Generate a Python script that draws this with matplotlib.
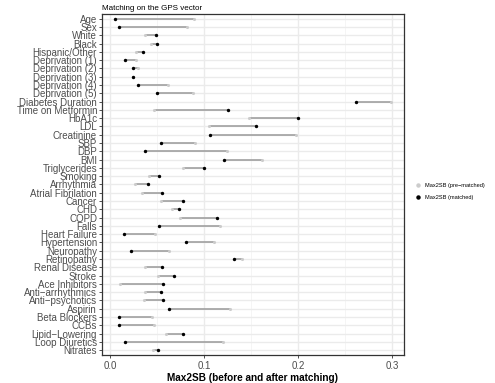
import matplotlib.pyplot as plt
from matplotlib.lines import Line2D

plt.rcParams['font.family'] = ['Liberation Sans', 'DejaVu Sans']

# covariates, top to bottom
covariates = ['Age', 'Sex', 'White', 'Black', 'Hispanic/Other',
              'Deprivation (1)', 'Deprivation (2)', 'Deprivation (3)',
              'Deprivation (4)', 'Deprivation (5)', 'Diabetes Duration',
              'Time on Metformin', 'HbA1c', 'LDL', 'Creatinine', 'SBP', 'DBP',
              'BMI', 'Triglycerides', 'Smoking', 'Arrhythmia',
              'Atrial Fibrilation', 'Cancer', 'CHD', 'COPD', 'Falls',
              'Heart Failure', 'Hypertension', 'Neuropathy', 'Retinopathy',
              'Renal Disease', 'Stroke', 'Ace Inhibitors',
              'Anti\u2212arrhythmics', 'Anti\u2212psychotics', 'Aspirin',
              'Beta Blockers', 'CCBs', 'Lipid\u2212Lowering', 'Loop Diuretics',
              'Nitrates']

pre_matched = [0.089, 0.082, 0.037, 0.044, 0.028,
               0.028, 0.030, 0.024,
               0.062, 0.088, 0.299,
               0.047, 0.148, 0.105, 0.198, 0.091, 0.125,
               0.162, 0.078, 0.042, 0.027,
               0.034, 0.054, 0.066, 0.075, 0.117,
               0.048, 0.111, 0.063, 0.141,
               0.037, 0.051, 0.011,
               0.037, 0.036, 0.128,
               0.045, 0.047, 0.060, 0.120,
               0.046]

matched = [0.005, 0.010, 0.049, 0.050, 0.035,
           0.016, 0.024, 0.025,
           0.030, 0.050, 0.262,
           0.126, 0.200, 0.155, 0.106, 0.054, 0.037,
           0.121, 0.100, 0.052, 0.040,
           0.055, 0.078, 0.073, 0.114, 0.052,
           0.015, 0.081, 0.022, 0.132,
           0.055, 0.068, 0.056,
           0.054, 0.056, 0.063,
           0.010, 0.010, 0.078, 0.016,
           0.051]

n = len(covariates)
ypos = [n - 1 - i for i in range(n)]

fig = plt.figure(figsize=(4.95, 3.83), dpi=100)
ax = fig.add_axes([0.206, 0.073, 0.61, 0.891])

# grid (theme_bw style)
for x in [0.05, 0.15, 0.25]:
    ax.axvline(x, color='#f2f2f2', lw=0.5, zorder=0)
for x in [0.0, 0.1, 0.2, 0.3]:
    ax.axvline(x, color='#ebebeb', lw=1.0, zorder=0)
for y in ypos:
    ax.axhline(y, color='#ebebeb', lw=1.0, zorder=0)

ax.hlines(ypos, pre_matched, matched, color='#999999', lw=1.1, zorder=2)
ax.scatter(pre_matched, ypos, s=5, color='#cccccc', zorder=3, linewidths=0)
ax.scatter(matched, ypos, s=6, color='black', zorder=4, linewidths=0)

ax.set_xlim(-0.0085, 0.3128)
ax.set_ylim(-0.6, n - 0.4)
ax.set_yticks(ypos)
ax.set_yticklabels(covariates, fontsize=7, color='#4d4d4d')
ax.set_xticks([0.0, 0.1, 0.2, 0.3])
ax.set_xticklabels(['0.0', '0.1', '0.2', '0.3'], fontsize=7, color='#4d4d4d')
ax.tick_params(axis='both', length=2.5, width=0.6, color='#333333', pad=1.5)
ax.tick_params(axis='y', pad=1)
for sp in ax.spines.values():
    sp.set_color('#333333')
    sp.set_linewidth(0.9)

ax.set_xlabel('Max2SB (before and after matching)', fontsize=7.2, fontweight='bold', labelpad=2)
ax.set_title('Matching on the GPS vector', fontsize=5.8, loc='left', pad=3)

handles = [
    Line2D([], [], marker='o', ls='', color='#cccccc', markersize=2.2),
    Line2D([], [], marker='o', ls='', color='black', markersize=2.2),
]
fig.legend(handles, ['Max2SB (pre\u2212matched)', 'Max2SB (matched)'],
           loc='center left', bbox_to_anchor=(0.828, 0.5), frameon=False,
           fontsize=4.1, handletextpad=0.8, labelspacing=1.4, handlelength=1)

fig.savefig('out.png', dpi=100)
